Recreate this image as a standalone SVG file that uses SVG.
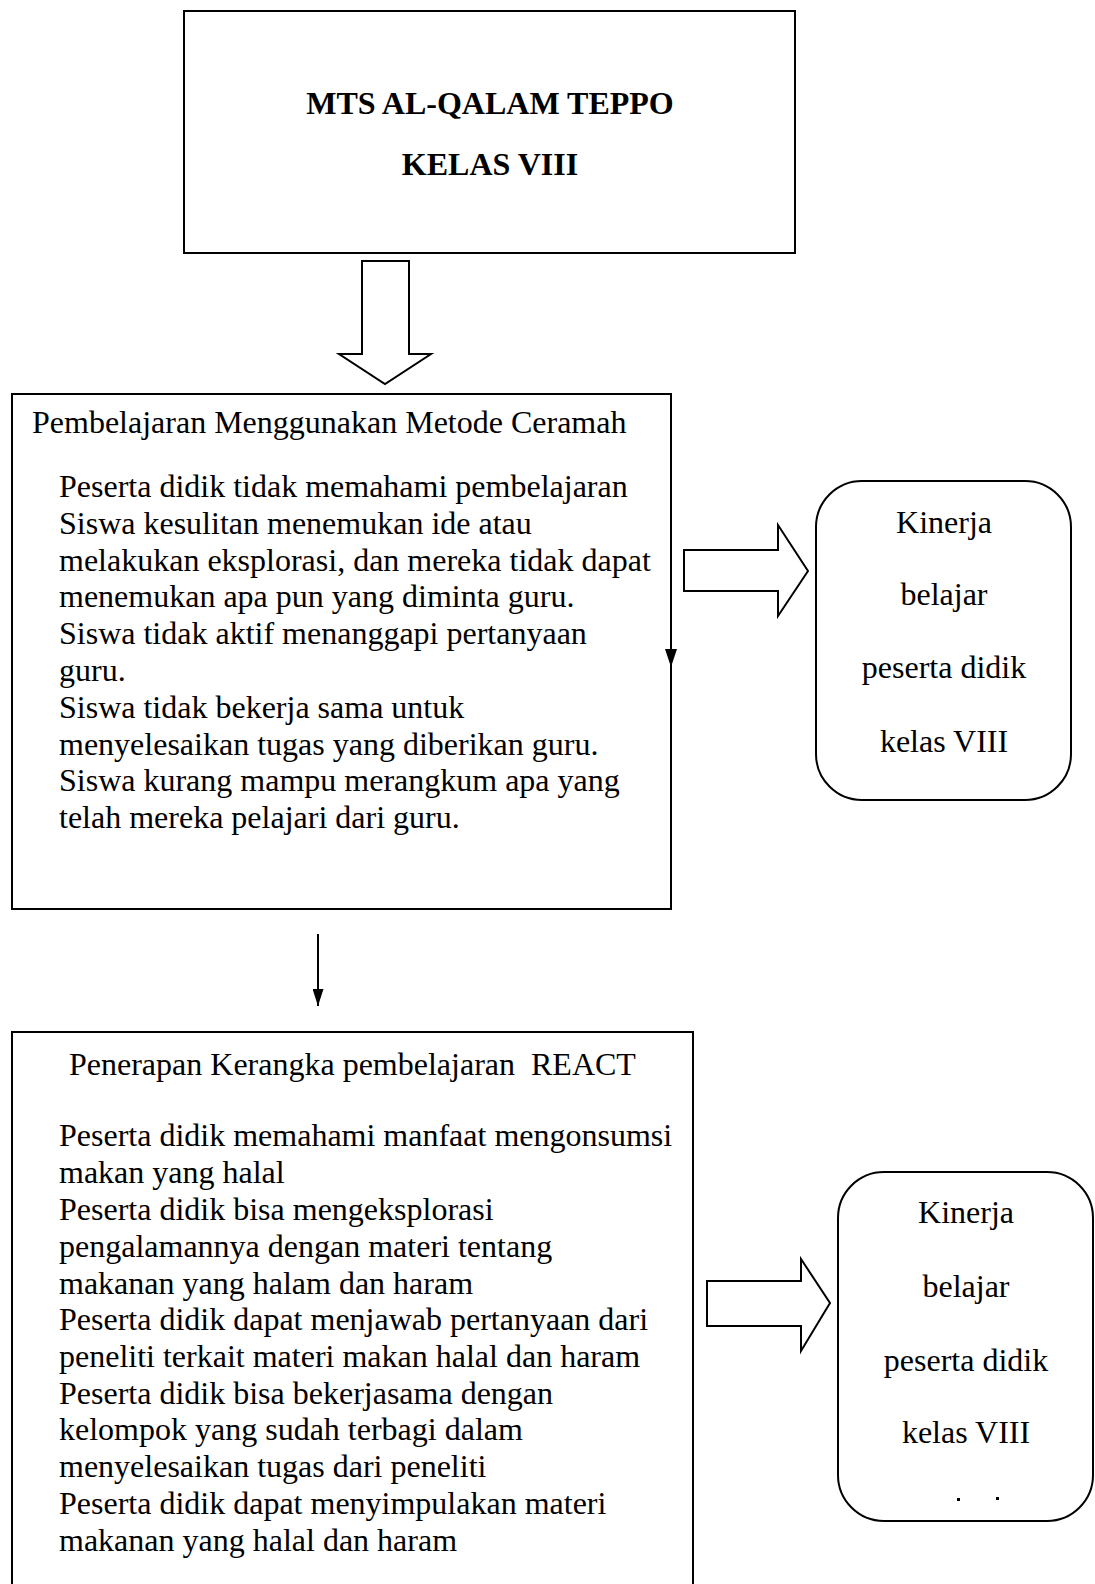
<svg xmlns="http://www.w3.org/2000/svg" width="1095" height="1584" viewBox="0 0 1095 1584">
<style>
.box{fill:#fff;stroke:#000;stroke-width:2}
.hollow{fill:#fff;stroke:#000;stroke-width:2;stroke-linejoin:miter}
.t{font-family:"Liberation Serif","Times New Roman",serif;font-size:32px;fill:#000}
.b{font-weight:bold}
.c{text-anchor:middle}
.ln{stroke:#000;stroke-width:2;fill:none}
</style>
<defs>
<marker id="ah" markerWidth="17" markerHeight="11" refX="17" refY="5.5" orient="auto" markerUnits="userSpaceOnUse" viewBox="0 0 17 11">
<path d="M0,0 L17,5.5 L0,11 Z" fill="#000"/>
</marker>
</defs>
<rect width="1095" height="1584" fill="#fff"/>

<g id="node-school">
<rect class="box" x="184" y="11" width="611" height="242"/>
<text class="t b c" x="490" y="114">MTS AL-QALAM TEPPO</text>
<text class="t b c" x="490" y="175">KELAS VIII</text>
</g>

<g id="node-ceramah">
<rect class="box" x="12" y="394" width="659" height="515"/>
<text class="t" x="32" y="433">Pembelajaran Menggunakan Metode Ceramah</text>
<text class="t" x="59" y="497">Peserta didik tidak memahami pembelajaran</text>
<text class="t" x="59" y="534">Siswa kesulitan menemukan ide atau</text>
<text class="t" x="59" y="571">melakukan eksplorasi, dan mereka tidak dapat</text>
<text class="t" x="59" y="607">menemukan apa pun yang diminta guru.</text>
<text class="t" x="59" y="644">Siswa tidak aktif menanggapi pertanyaan</text>
<text class="t" x="59" y="681">guru.</text>
<text class="t" x="59" y="718">Siswa tidak bekerja sama untuk</text>
<text class="t" x="59" y="755">menyelesaikan tugas yang diberikan guru.</text>
<text class="t" x="59" y="791">Siswa kurang mampu merangkum apa yang</text>
<text class="t" x="59" y="828">telah mereka pelajari dari guru.</text>
</g>

<g id="node-kinerja1">
<rect class="box" x="816" y="481" width="255" height="319" rx="46" ry="46"/>
<text class="t c" x="944" y="533">Kinerja</text>
<text class="t c" x="944" y="605">belajar</text>
<text class="t c" x="944" y="678">peserta didik</text>
<text class="t c" x="944" y="752">kelas VIII</text>
</g>

<g id="node-react">
<rect class="box" x="12" y="1032" width="681" height="600"/>
<text class="t" x="69" y="1075" xml:space="preserve">Penerapan Kerangka pembelajaran  REACT</text>
<text class="t" x="59" y="1146">Peserta didik memahami manfaat mengonsumsi</text>
<text class="t" x="59" y="1183">makan yang halal</text>
<text class="t" x="59" y="1220">Peserta didik bisa mengeksplorasi</text>
<text class="t" x="59" y="1257">pengalamannya dengan materi tentang</text>
<text class="t" x="59" y="1294">makanan yang halam dan haram</text>
<text class="t" x="59" y="1330">Peserta didik dapat menjawab pertanyaan dari</text>
<text class="t" x="59" y="1367">peneliti terkait materi makan halal dan haram</text>
<text class="t" x="59" y="1404">Peserta didik bisa bekerjasama dengan</text>
<text class="t" x="59" y="1440">kelompok yang sudah terbagi dalam</text>
<text class="t" x="59" y="1477">menyelesaikan tugas dari peneliti</text>
<text class="t" x="59" y="1514">Peserta didik dapat menyimpulakan materi</text>
<text class="t" x="59" y="1551">makanan yang halal dan haram</text>
</g>

<g id="node-kinerja2">
<rect class="box" x="838" y="1172" width="255" height="349" rx="46" ry="46"/>
<text class="t c" x="966" y="1223">Kinerja</text>
<text class="t c" x="966" y="1297">belajar</text>
<text class="t c" x="966" y="1371">peserta didik</text>
<text class="t c" x="966" y="1443">kelas VIII</text>
<rect x="957" y="1498" width="3" height="3" fill="#000"/>
<rect x="996" y="1497" width="3" height="3" fill="#000"/>
</g>

<g id="connectors">
<path class="hollow" d="M362,261 L409,261 L409,354 L431,354 L385,384 L339,354 L362,354 Z"/>
<path class="hollow" d="M684,550 L778,550 L778,525 L808,571 L778,616 L778,591 L684,591 Z"/>
<path class="hollow" d="M707,1281 L801,1281 L801,1259 L830,1303 L801,1351 L801,1326 L707,1326 Z"/>
<path d="M665,649 L677,649 L671,667 Z" fill="#000"/>
<line class="ln" x1="318" y1="934" x2="318" y2="1006" marker-end="url(#ah)"/>
</g>
</svg>
